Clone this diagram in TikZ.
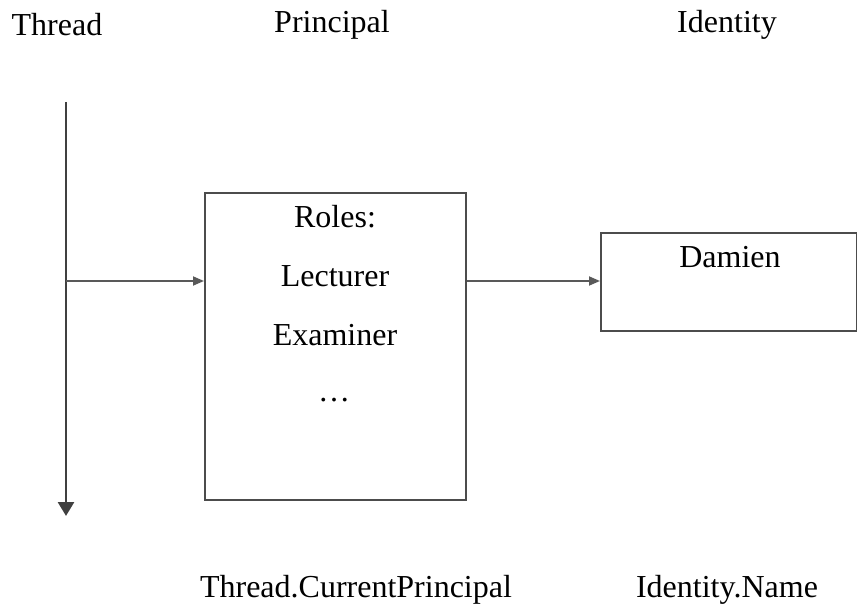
\documentclass[tikz,border=0pt]{standalone}
\usepackage{fontspec}
\setmainfont{Liberation Serif}
\usetikzlibrary{arrows.meta}
\begin{document}
\begin{tikzpicture}[x=1pt,y=-1pt,
  lbl/.style={font=\fontsize{32}{36}\selectfont, inner sep=0pt, anchor=base},
  boxed/.style={draw=black!70, line width=2pt, inner sep=0pt, anchor=north west},
  link/.style={draw=black!65, line width=1.8pt, -{Triangle[length=11pt,width=9pt]}}]
  \useasboundingbox (0,0) rectangle (857,604);
  % column headings
  \node[lbl] (hthread) at (57,36) {Thread};
  \node[lbl] (hprin) at (332,33) {Principal};
  \node[lbl] (hid) at (727,33) {Identity};
  % thread time line
  \coordinate (ttop) at (66,102);
  \coordinate (tbot) at (66,516);
  \coordinate (tmid) at (66,281);
  \draw[draw=black!75, line width=2.6pt, -{Triangle[length=14pt,width=16pt]}] (ttop) -- (tbot);
  % principal box with its roles
  \node[boxed, minimum width=261pt, minimum height=307pt] (prin) at (204,192) {};
  \node[lbl] (roles) at (335,228) {Roles:};
  \node[lbl] (lect) at (335,287) {Lecturer};
  \node[lbl] (exam) at (335,345) {Examiner};
  \node[lbl] (dots) at (334,401) {\dots};
  % identity box
  \node[boxed, minimum width=256pt, minimum height=98pt] (ident) at (600,232) {};
  \node[lbl] (name) at (730,268) {Damien};
  % connectors
  \draw[link] (tmid) -- (prin.west |- tmid);
  \draw[link] (prin.east |- tmid) -- (ident.west |- tmid);
  % property names
  \node[lbl] (cp) at (356,597) {Thread.CurrentPrincipal};
  \node[lbl] (iname) at (727,597) {Identity.Name};
\end{tikzpicture}
\end{document}
